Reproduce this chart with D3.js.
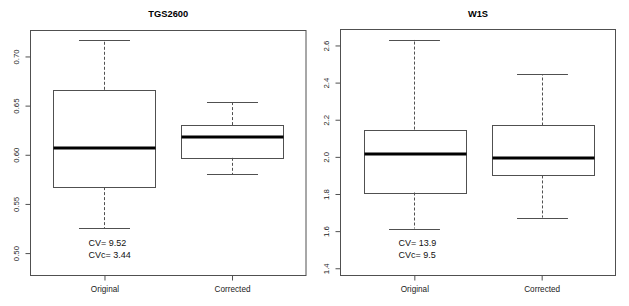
<!DOCTYPE html>
<html>
<head>
<meta charset="utf-8">
<script src="https://cdn.jsdelivr.net/npm/d3@7"></script>
<style>
  body { margin: 0; background: #fff; }
  text { font-family: "Liberation Sans", Arial, sans-serif; }
</style>
</head>
<body>
<svg id="chart"></svg>
<script>
// categories
const groups = ["Original", "Corrected"];

// five-number summaries: [lower whisker, Q1, median, Q3, upper whisker]
const tgsOriginal = [0.5254, 0.5671, 0.6071, 0.6661, 0.7167];
const tgsCorrected = [0.5804, 0.5969, 0.6183, 0.6302, 0.6536];
const w1sOriginal = [1.614, 1.808, 2.0145, 2.147, 2.632];
const w1sCorrected = [1.673, 1.900, 1.993, 2.169, 2.444];

// tick values
const tgsTicks = [0.50, 0.55, 0.60, 0.65, 0.70];
const w1sTicks = [1.4, 1.6, 1.8, 2.0, 2.2, 2.4, 2.6];

// annotations
const tgsCV = ["CV= 9.52", "CVc= 3.44"];
const w1sCV = ["CV= 13.9", "CVc= 9.5"];

const width = 629, height = 306;
const svg = d3.select("#chart").attr("width", width).attr("height", height);

const panels = [
  { title: "TGS2600", left: 30.5, right: 306, top: 30.5, bottom: 275.5,
    domain: [0.4772, 0.7264], ticks: tgsTicks, fmt: d3.format(".2f"),
    stats: [tgsOriginal, tgsCorrected], cv: tgsCV },
  { title: "W1S", left: 340.5, right: 615.5, top: 29.5, bottom: 275.5,
    domain: [1.361, 2.686], ticks: w1sTicks, fmt: d3.format(".1f"),
    stats: [w1sOriginal, w1sCorrected], cv: w1sCV }
];

const lineCol = "#505050";

panels.forEach(p => {
  const g = svg.append("g");

  const x = d3.scalePoint().domain(groups).range([p.left, p.right]).padding(0.58);
  const y = d3.scaleLinear().domain(p.domain).range([p.bottom, p.top]);
  const step = x.step();
  const boxHalf = step * 0.4, capHalf = step * 0.2;

  // title
  g.append("text")
    .attr("x", (p.left + p.right) / 2)
    .attr("y", 17)
    .attr("text-anchor", "middle")
    .attr("font-size", "9.3px")
    .attr("font-weight", "bold")
    .text(p.title);

  // boxes
  groups.forEach((name, i) => {
    const s = p.stats[i];
    const cx = Math.round(x(name)) + 0.5;
    const bx = g.append("g");

    // whiskers (dashed)
    bx.append("line")
      .attr("x1", cx).attr("x2", cx)
      .attr("y1", y(s[3])).attr("y2", y(s[4]))
      .attr("stroke", lineCol).attr("stroke-dasharray", "3,2");
    bx.append("line")
      .attr("x1", cx).attr("x2", cx)
      .attr("y1", y(s[1])).attr("y2", y(s[0]))
      .attr("stroke", lineCol).attr("stroke-dasharray", "3,2");

    // caps
    [s[0], s[4]].forEach(v => {
      bx.append("line")
        .attr("x1", cx - capHalf).attr("x2", cx + capHalf)
        .attr("y1", Math.round(y(v)) + 0.5).attr("y2", Math.round(y(v)) + 0.5)
        .attr("stroke", lineCol);
    });

    // box
    bx.append("rect")
      .attr("x", Math.round(cx - boxHalf) + 0.5)
      .attr("y", Math.round(y(s[3])) + 0.5)
      .attr("width", Math.round(boxHalf * 2))
      .attr("height", Math.round(y(s[1]) - y(s[3])))
      .attr("fill", "none")
      .attr("stroke", lineCol);

    // median
    bx.append("line")
      .attr("x1", Math.round(cx - boxHalf) + 0.5)
      .attr("x2", Math.round(cx - boxHalf) + 0.5 + Math.round(boxHalf * 2))
      .attr("y1", Math.round(y(s[2]))).attr("y2", Math.round(y(s[2])))
      .attr("stroke", "#000").attr("stroke-width", 3);
  });

  // CV annotation
  const tx = x(groups[0]) - step * 0.125;
  p.cv.forEach((t, k) => {
    g.append("text")
      .attr("x", tx)
      .attr("y", p.bottom - 29.5 + k * 11.5)
      .attr("font-size", "9px")
      .attr("fill", "#111")
      .text(t);
  });

  // frame
  g.append("rect")
    .attr("x", p.left).attr("y", p.top)
    .attr("width", p.right - p.left).attr("height", p.bottom - p.top)
    .attr("fill", "none").attr("stroke", lineCol);

  // y axis
  const yAxis = d3.axisLeft(y).tickValues(p.ticks).tickFormat(p.fmt).tickSize(5).tickPadding(9);
  const ya = g.append("g").attr("transform", `translate(${p.left},0)`).call(yAxis);
  ya.select(".domain").remove();
  ya.selectAll(".tick line").attr("stroke", lineCol);
  ya.selectAll(".tick text")
    .attr("font-size", "7.8px")
    .attr("font-family", "Liberation Sans, Arial, sans-serif")
    .attr("fill", "#222")
    .attr("x", null).attr("dy", null)
    .attr("text-anchor", "middle")
    .attr("transform", "translate(-14,0) rotate(-90)")
    .attr("dy", "0.32em");

  // x axis
  const xAxis = d3.axisBottom(x).tickSize(5).tickPadding(6);
  const xa = g.append("g").attr("transform", `translate(0,${p.bottom})`).call(xAxis);
  xa.select(".domain").remove();
  xa.selectAll(".tick line").attr("stroke", lineCol);
  xa.selectAll(".tick text")
    .attr("font-size", "8.2px")
    .attr("font-family", "Liberation Sans, Arial, sans-serif")
    .attr("fill", "#222");
});
</script>
</body>
</html>
